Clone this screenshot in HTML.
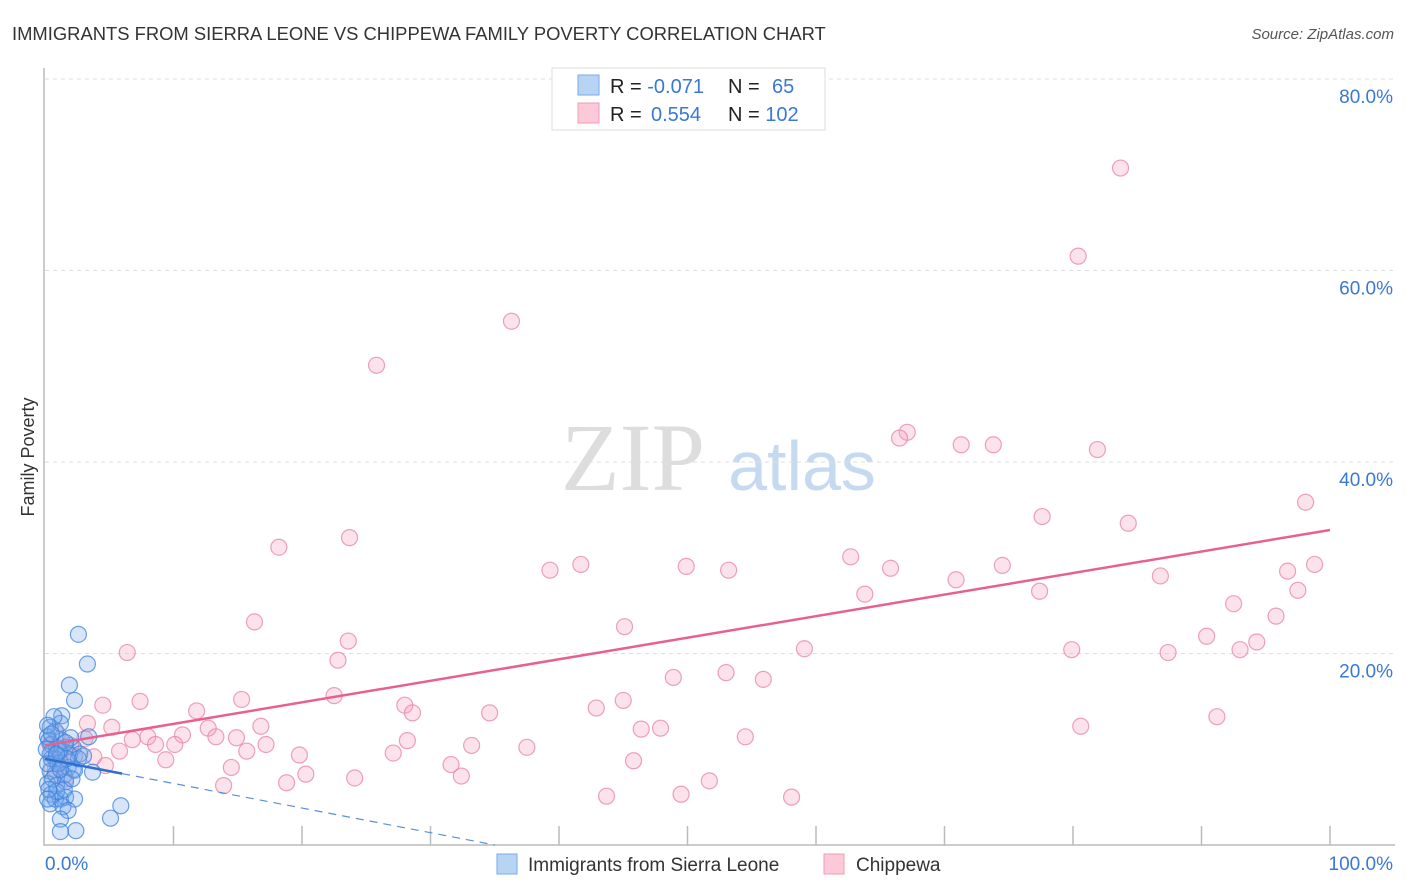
<!DOCTYPE html>
<html><head><meta charset="utf-8">
<style>
body{margin:0;background:#fff;font-family:"Liberation Sans",sans-serif;}
#wrap{position:relative;width:1406px;height:892px;overflow:hidden;}
</style></head>
<body>
<div id="wrap">
<svg id="svg" width="1406" height="892" xmlns="http://www.w3.org/2000/svg">
<text x="12" y="40" font-size="18.4" fill="#333">IMMIGRANTS FROM SIERRA LEONE VS CHIPPEWA FAMILY POVERTY CORRELATION CHART</text>
<text x="1394" y="39" font-size="15" font-style="italic" fill="#555" text-anchor="end">Source: ZipAtlas.com</text>
<text transform="translate(34,457) rotate(-90)" font-size="18" fill="#333" text-anchor="middle">Family Poverty</text>
<g>
<text x="633" y="490" font-family="Liberation Serif,serif" font-size="96" fill="#ddd" text-anchor="middle">ZIP</text>
<text x="802" y="490" font-size="70" fill="#c5daf0" text-anchor="middle">atlas</text>
</g>
<g id="grid"></g>
<g id="pts"></g>
<g id="lines"></g>
<g>
<rect x="552" y="68" width="273" height="62" fill="#fff" stroke="#ddd"/>
<rect x="578" y="75" width="21" height="20" fill="#b8d4f5" stroke="#7aaae6"/>
<rect x="578" y="103" width="21" height="20" fill="#fbc9d8" stroke="#f09ab5"/>
<text x="610" y="93" font-size="20" fill="#222">R = <tspan fill="#3a78d6">-0.071</tspan></text>
<text x="728" y="93" font-size="20" fill="#222">N = <tspan fill="#3a78d6" x="772">65</tspan></text>
<text x="610" y="121" font-size="20" fill="#222">R = <tspan fill="#3a78d6" x="651">0.554</tspan></text>
<text x="728" y="121" font-size="20" fill="#222">N = <tspan fill="#3a78d6">102</tspan></text>
</g>
<g>
<rect x="497" y="854" width="20" height="20" fill="#b8d4f5" stroke="#7aaae6"/>
<text x="528" y="871" font-size="19" fill="#333">Immigrants from Sierra Leone</text>
<rect x="824" y="854" width="20" height="20" fill="#fbc9d8" stroke="#f09ab5"/>
<text x="856" y="871" font-size="19" fill="#333">Chippewa</text>
</g>
</svg>
</div>
<script>
const yTicks=[20,40,60,80];
const yTickLabels=["20.0%","40.0%","60.0%","80.0%"];
const xTickCount=10;
const xLabels=["0.0%","100.0%"];
const blueX=[2.6,3.3,1.9,2.3,1.3,0.4,0.8,1.2,0.2,0.5,0.9,1.6,2.2,3.4,2.7,0.4,0.8,1.2,1.8,2.2,0.4,0.8,1.5,2.3,3.7,0.2,0.9,1.6,0.5,1.2,1.6,2.3,0.4,0.8,1.4,1.8,5.9,5.1,1.2,2.4,1.2,0.7,0.2,0.3,0.5,1.0,1.3,1.9,2.6,3.0,0.2,0.6,0.9,1.5,1.7,2.0,1.1,0.5,0.1,0.3,0.9,1.2,1.6,2.1,0.2];
const blueY=[22.0,18.9,16.7,15.1,13.5,12.3,11.9,12.7,11.3,10.5,10.2,10.2,10.2,11.3,9.5,9.5,9.0,8.6,8.1,7.9,7.7,7.4,7.3,7.8,7.6,6.4,6.2,6.6,5.3,4.8,5.0,4.8,4.3,4.8,4.0,3.6,4.1,2.8,2.7,1.5,1.4,13.4,12.5,10.9,9.0,8.5,10.9,9.4,9.0,9.3,8.5,6.9,5.6,5.8,9.0,11.2,9.8,11.6,10.0,5.8,9.5,7.9,10.7,6.9,4.8];
const pinkX=[83.7,80.4,36.3,25.8,67.1,66.5,71.3,73.8,81.9,98.1,77.6,84.3,18.2,23.7,62.7,39.3,41.7,49.9,53.2,65.8,74.5,70.9,63.8,77.4,86.8,96.7,98.8,97.5,92.5,95.8,16.3,45.1,90.4,94.3,23.6,6.4,59.1,79.9,87.4,93.0,22.8,48.9,53.0,55.9,15.3,7.4,22.5,45.0,4.5,11.8,28.0,28.6,42.9,34.6,91.2,3.3,5.2,16.8,12.7,10.7,46.4,47.9,80.6,8.0,6.8,8.6,10.1,14.9,13.3,17.2,28.2,33.2,37.5,54.5,2.0,5.8,3.8,9.4,15.7,19.8,27.1,31.6,45.8,4.7,14.5,20.3,32.4,24.1,13.9,18.8,51.7,43.7,49.5,58.1,1.2,2.3,0.8,1.2,3.1,1.6,0.4,1.0];
const pinkY=[70.7,61.5,54.7,50.1,43.1,42.5,41.8,41.8,41.3,35.8,34.3,33.6,31.1,32.1,30.1,28.7,29.3,29.1,28.7,28.9,29.2,27.7,26.2,26.5,28.1,28.6,29.3,26.6,25.2,23.9,23.3,22.8,21.8,21.2,21.3,20.1,20.5,20.4,20.1,20.4,19.3,17.5,18.0,17.3,15.2,15.0,15.6,15.1,14.6,14.0,14.6,13.8,14.3,13.8,13.4,12.7,12.3,12.4,12.2,11.5,12.1,12.2,12.4,11.3,11.0,10.5,10.5,11.2,11.3,10.5,10.9,10.4,10.2,11.3,10.4,9.8,9.2,8.9,9.8,9.4,9.6,8.4,8.8,8.3,8.1,7.4,7.2,7.0,6.2,6.5,6.7,5.1,5.3,5.0,9.0,9.3,7.9,9.8,11.1,6.9,10.5,11.6];
const pinkLine=[10.4,32.9];   // fitted values at x=0 and x=100
const blueLine=[9.0,0.0];     // fitted values at x=0 and x=35

const NS="http://www.w3.org/2000/svg";
const X0=45,X1=1330,Y0=845,PY=9.575;
const sx=v=>X0+(X1-X0)*v/100;
const sy=v=>Y0-v*PY;
function mk(tag,attrs,parent){const e=document.createElementNS(NS,tag);for(const k in attrs)e.setAttribute(k,attrs[k]);parent.appendChild(e);return e;}
const grid=document.getElementById('grid'),pts=document.getElementById('pts'),lines=document.getElementById('lines');
yTicks.forEach((t,i)=>{
  const l=mk('line',{x1:X0,x2:1395,y1:sy(t),y2:sy(t),stroke:'#ddd','stroke-dasharray':'4,4'},grid);
  
  
  const tx=mk('text',{x:1393,y:sy(t)+24,'font-size':19,fill:'#3a78d6','text-anchor':'end'},grid);
  tx.textContent=yTickLabels[i];
  
  
});
const ax=mk('path',{d:`M44 68 V${Y0} H1395`,stroke:'#bbb',fill:'none','stroke-width':1.5},grid);


for(let i=1;i<=xTickCount;i++){
  const t=mk('line',{x1:sx(i*10),x2:sx(i*10),y1:826,y2:Y0,stroke:'#bbb','stroke-width':1.5},grid);
  
  
}
const xl0=mk('text',{x:45,y:870,'font-size':19,fill:'#3a78d6'},grid);xl0.textContent=xLabels[0];


const xl1=mk('text',{x:1393,y:870,'font-size':19,fill:'#3a78d6','text-anchor':'end'},grid);xl1.textContent=xLabels[1];


pinkX.forEach((x,i)=>{
  const c=mk('circle',{cx:sx(x),cy:sy(pinkY[i]),r:8,fill:'rgba(244,160,190,0.3)',stroke:'rgba(232,130,165,0.75)','stroke-width':1.2},pts);
  
  
});
blueX.forEach((x,i)=>{
  const c=mk('circle',{cx:sx(x),cy:sy(blueY[i]),r:8,fill:'rgba(120,170,235,0.3)',stroke:'rgba(60,130,220,0.75)','stroke-width':1.2},pts);
  
  
});
const pl=mk('line',{x1:sx(0),y1:sy(pinkLine[0]),x2:sx(100),y2:sy(pinkLine[1]),stroke:'#e8608f','stroke-width':2.5},lines);


const bAt=x=>blueLine[0]+(blueLine[1]-blueLine[0])*x/35;
const bl=mk('line',{x1:sx(0),y1:sy(bAt(0)),x2:sx(6),y2:sy(bAt(6)),stroke:'#2f6fd0','stroke-width':2.5},lines);


const bd=mk('line',{x1:sx(6),y1:sy(bAt(6)),x2:sx(35),y2:sy(bAt(35)),stroke:'#5a8fdc','stroke-width':1.2,'stroke-dasharray':'8,6'},lines);


</script>
</body></html>
